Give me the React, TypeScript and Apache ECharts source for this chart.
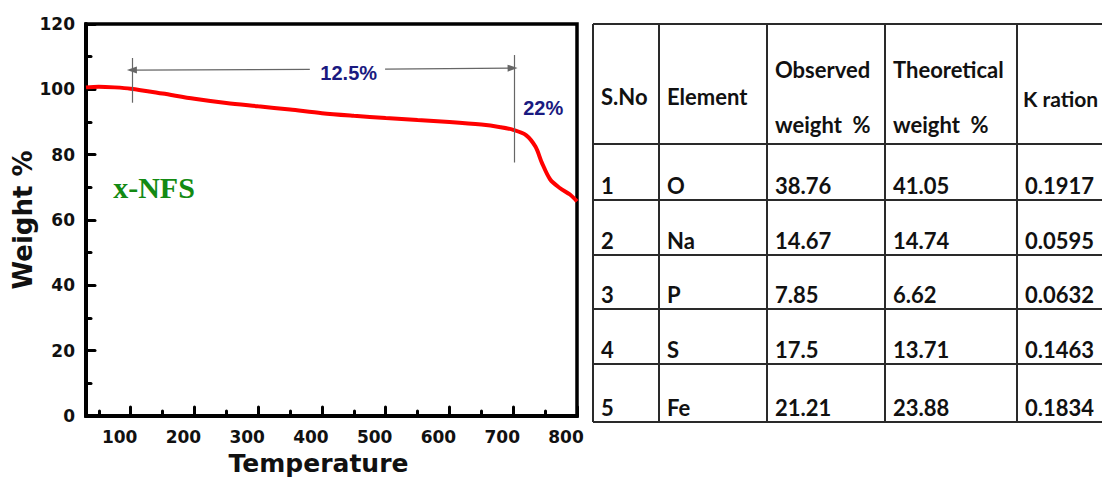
import React, { useEffect, useRef } from "react";
import * as echarts from "echarts";

// ---- Chart data (TGA curve) ----
const TEMPS = [30, 50, 75, 100, 150, 200, 250, 300, 350, 400, 450, 500, 550, 600, 650, 680, 700, 720, 735, 745, 758, 773, 789, 800];
const WEIGHTS = [100.6, 100.8, 100.6, 100.2, 98.7, 97.1, 95.8, 94.8, 93.8, 92.7, 91.9, 91.2, 90.6, 90.0, 89.2, 88.4, 87.6, 86.0, 82.4, 77.5, 72.4, 69.8, 67.8, 65.7];

const X_MAJOR = [100, 200, 300, 400, 500, 600, 700, 800];
const X_MINOR = [50, 150, 250, 350, 450, 550, 650, 750];

// ---- Annotations ----
const STEP1_LABEL = "12.5%";
const STEP2_LABEL = "22%";
const SAMPLE_LABEL = "x-NFS";

// ---- Table data ----
const SNO = ["1", "2", "3", "4", "5"];
const ELEMENTS = ["O", "Na", "P", "S", "Fe"];
const OBSERVED = ["38.76", "14.67", "7.85", "17.5", "21.21"];
const THEORETICAL = ["41.05", "14.74", "6.62", "13.71", "23.88"];
const K_RATIO = ["0.1917", "0.0595", "0.0632", "0.1463", "0.1834"];

const TABLE_FONT = "Lato, 'Noto Sans', sans-serif";
const AXIS_FONT = "'DejaVu Sans', sans-serif";

function buildTable(): any[] {
  const colX = [593, 659, 767, 885, 1017];
  const rowY = [24, 144, 200, 255, 309, 364, 422];
  const right = 1104;
  const lineStyle = { stroke: "#2a2a2a", lineWidth: 2 };
  const els: any[] = [];
  rowY.forEach((y) => {
    els.push({ type: "line", shape: { x1: colX[0], y1: y, x2: right, y2: y }, style: lineStyle });
  });
  colX.forEach((x) => {
    els.push({ type: "line", shape: { x1: x, y1: rowY[0], x2: x, y2: rowY[rowY.length - 1] }, style: lineStyle });
  });
  const txt = (text: string, x: number, y: number, size = 22) => ({
    type: "text",
    x,
    y,
    style: {
      text,
      fill: "#111",
      font: `bold ${size}px ${TABLE_FONT}`,
      textAlign: "left",
      textVerticalAlign: "middle",
    },
  });
  const pad = 8;
  els.push(txt("S.No", colX[0] + pad, 96));
  els.push(txt("Element", colX[1] + pad, 96));
  els.push(txt("Observed", colX[2] + pad, 69));
  els.push(txt("weight  %", colX[2] + pad, 124));
  els.push(txt("Theoretical", colX[3] + pad, 69));
  els.push(txt("weight  %", colX[3] + pad, 124));
  els.push(txt("K ration", colX[4] + 6, 98, 21));
  const cols = [SNO, ELEMENTS, OBSERVED, THEORETICAL, K_RATIO];
  for (let r = 0; r < SNO.length; r++) {
    const cy = rowY[r + 2] - 15;
    cols.forEach((col, c) => {
      els.push(txt(col[r], colX[c] + pad, cy));
    });
  }
  return els;
}

export default function App() {
  const ref = useRef<HTMLDivElement>(null);
  useEffect(() => {
    if (!ref.current) return;
    const chart = echarts.init(ref.current, undefined, { renderer: "svg" });
    const tickLabelStyle = {
      color: "#111",
      fontFamily: AXIS_FONT,
      fontWeight: "bold" as const,
      fontSize: 17,
    };
    const gray = "#666";
    const option: any = {
      animation: false,
      backgroundColor: "#fff",
      grid: {
        left: 86,
        right: 525,
        top: 24,
        bottom: 64,
        show: true,
        borderColor: "#000",
        borderWidth: 3.5,
        backgroundColor: "transparent",
      },
      xAxis: [
        {
          type: "value",
          min: 30,
          max: 800,
          name: "Temperature",
          nameLocation: "middle",
          nameGap: 35,
          nameTextStyle: {
            color: "#111",
            fontFamily: AXIS_FONT,
            fontWeight: "bold",
            fontSize: 25,
            padding: [0, 26, 0, 0],
          },
          axisLine: { lineStyle: { color: "#000", width: 4 } },
          axisTick: {
            inside: true,
            length: 9,
            customValues: X_MAJOR,
            lineStyle: { color: "#000", width: 3, cap: "round" },
          },
          axisLabel: {
            ...tickLabelStyle,
            customValues: X_MAJOR,
            margin: 12,
            padding: [0, 22, 0, 0],
          },
          splitLine: { show: false },
        },
        {
          type: "value",
          min: 30,
          max: 800,
          position: "bottom",
          axisLine: { show: false },
          axisTick: {
            inside: true,
            length: 5,
            customValues: X_MINOR,
            lineStyle: { color: "#000", width: 3, cap: "round" },
          },
          axisLabel: { show: false },
          splitLine: { show: false },
        },
      ],
      yAxis: {
        type: "value",
        min: 0,
        max: 120,
        interval: 20,
        name: "Weight %",
        nameLocation: "middle",
        nameGap: 50,
        nameTextStyle: {
          color: "#111",
          fontFamily: AXIS_FONT,
          fontWeight: "bold",
          fontSize: 26,
        },
        axisLine: { show: true, lineStyle: { color: "#000", width: 4 } },
        axisTick: { show: true, inside: true, length: 9, lineStyle: { color: "#000", width: 3, cap: "round" } },
        minorTick: { show: true, splitNumber: 2, length: 5, lineStyle: { color: "#000", width: 3, cap: "round" } },
        axisLabel: { ...tickLabelStyle, margin: 11 },
        splitLine: { show: false },
      },
      series: [
        {
          type: "line",
          xAxisIndex: 0,
          data: TEMPS.map((t, i) => [t, WEIGHTS[i]]),
          showSymbol: false,
          smooth: 0.3,
          lineStyle: { color: "#ff0000", width: 4 },
          z: 3,
          markLine: {
            silent: true,
            symbolSize: [7, 10],
            label: { show: false },
            lineStyle: { color: gray, width: 1.2, type: "solid" },
            data: [
              [
                { coord: [102, 105.9], symbol: "triangle", symbolSize: [7, 10], itemStyle: { color: "#111" } },
                { coord: [381, 106.1], symbol: "none" },
              ],
              [
                { coord: [499, 106.2], symbol: "none" },
                { coord: [699, 106.5], symbol: "triangle", symbolSize: [7, 10], itemStyle: { color: "#111" } },
              ],
              [
                { coord: [102, 109.6], symbol: "none" },
                { coord: [102, 95.9], symbol: "none" },
              ],
              [
                { coord: [701, 110.5], symbol: "none" },
                { coord: [701, 77.6], symbol: "none" },
              ],
            ],
          },
          markPoint: {
            silent: true,
            symbol: "rect",
            symbolSize: 1,
            itemStyle: { color: "rgba(0,0,0,0)" },
            data: [
              {
                coord: [442, 105],
                label: {
                  show: true,
                  position: "inside",
                  formatter: STEP1_LABEL,
                  color: "#1a1a80",
                  fontFamily: "'Liberation Sans', Arial, sans-serif",
                  fontWeight: "bold",
                  fontSize: 20,
                },
              },
              {
                coord: [747, 94.4],
                label: {
                  show: true,
                  position: "inside",
                  formatter: STEP2_LABEL,
                  color: "#1a1a80",
                  fontFamily: "'Liberation Sans', Arial, sans-serif",
                  fontWeight: "bold",
                  fontSize: 20,
                },
              },
              {
                coord: [136.6, 69.9],
                label: {
                  show: true,
                  position: "inside",
                  formatter: SAMPLE_LABEL,
                  color: "#138a13",
                  fontFamily: "'Liberation Serif', 'Times New Roman', serif",
                  fontWeight: "bold",
                  fontSize: 30,
                },
              },
            ],
          },
        },
      ],
      graphic: buildTable(),
    };
    chart.setOption(option);
    return () => chart.dispose();
  }, []);
  return (
    <div
      ref={ref}
      style={{ position: "absolute", left: 0, top: 0, width: 1102, height: 481 }}
    />
  );
}
